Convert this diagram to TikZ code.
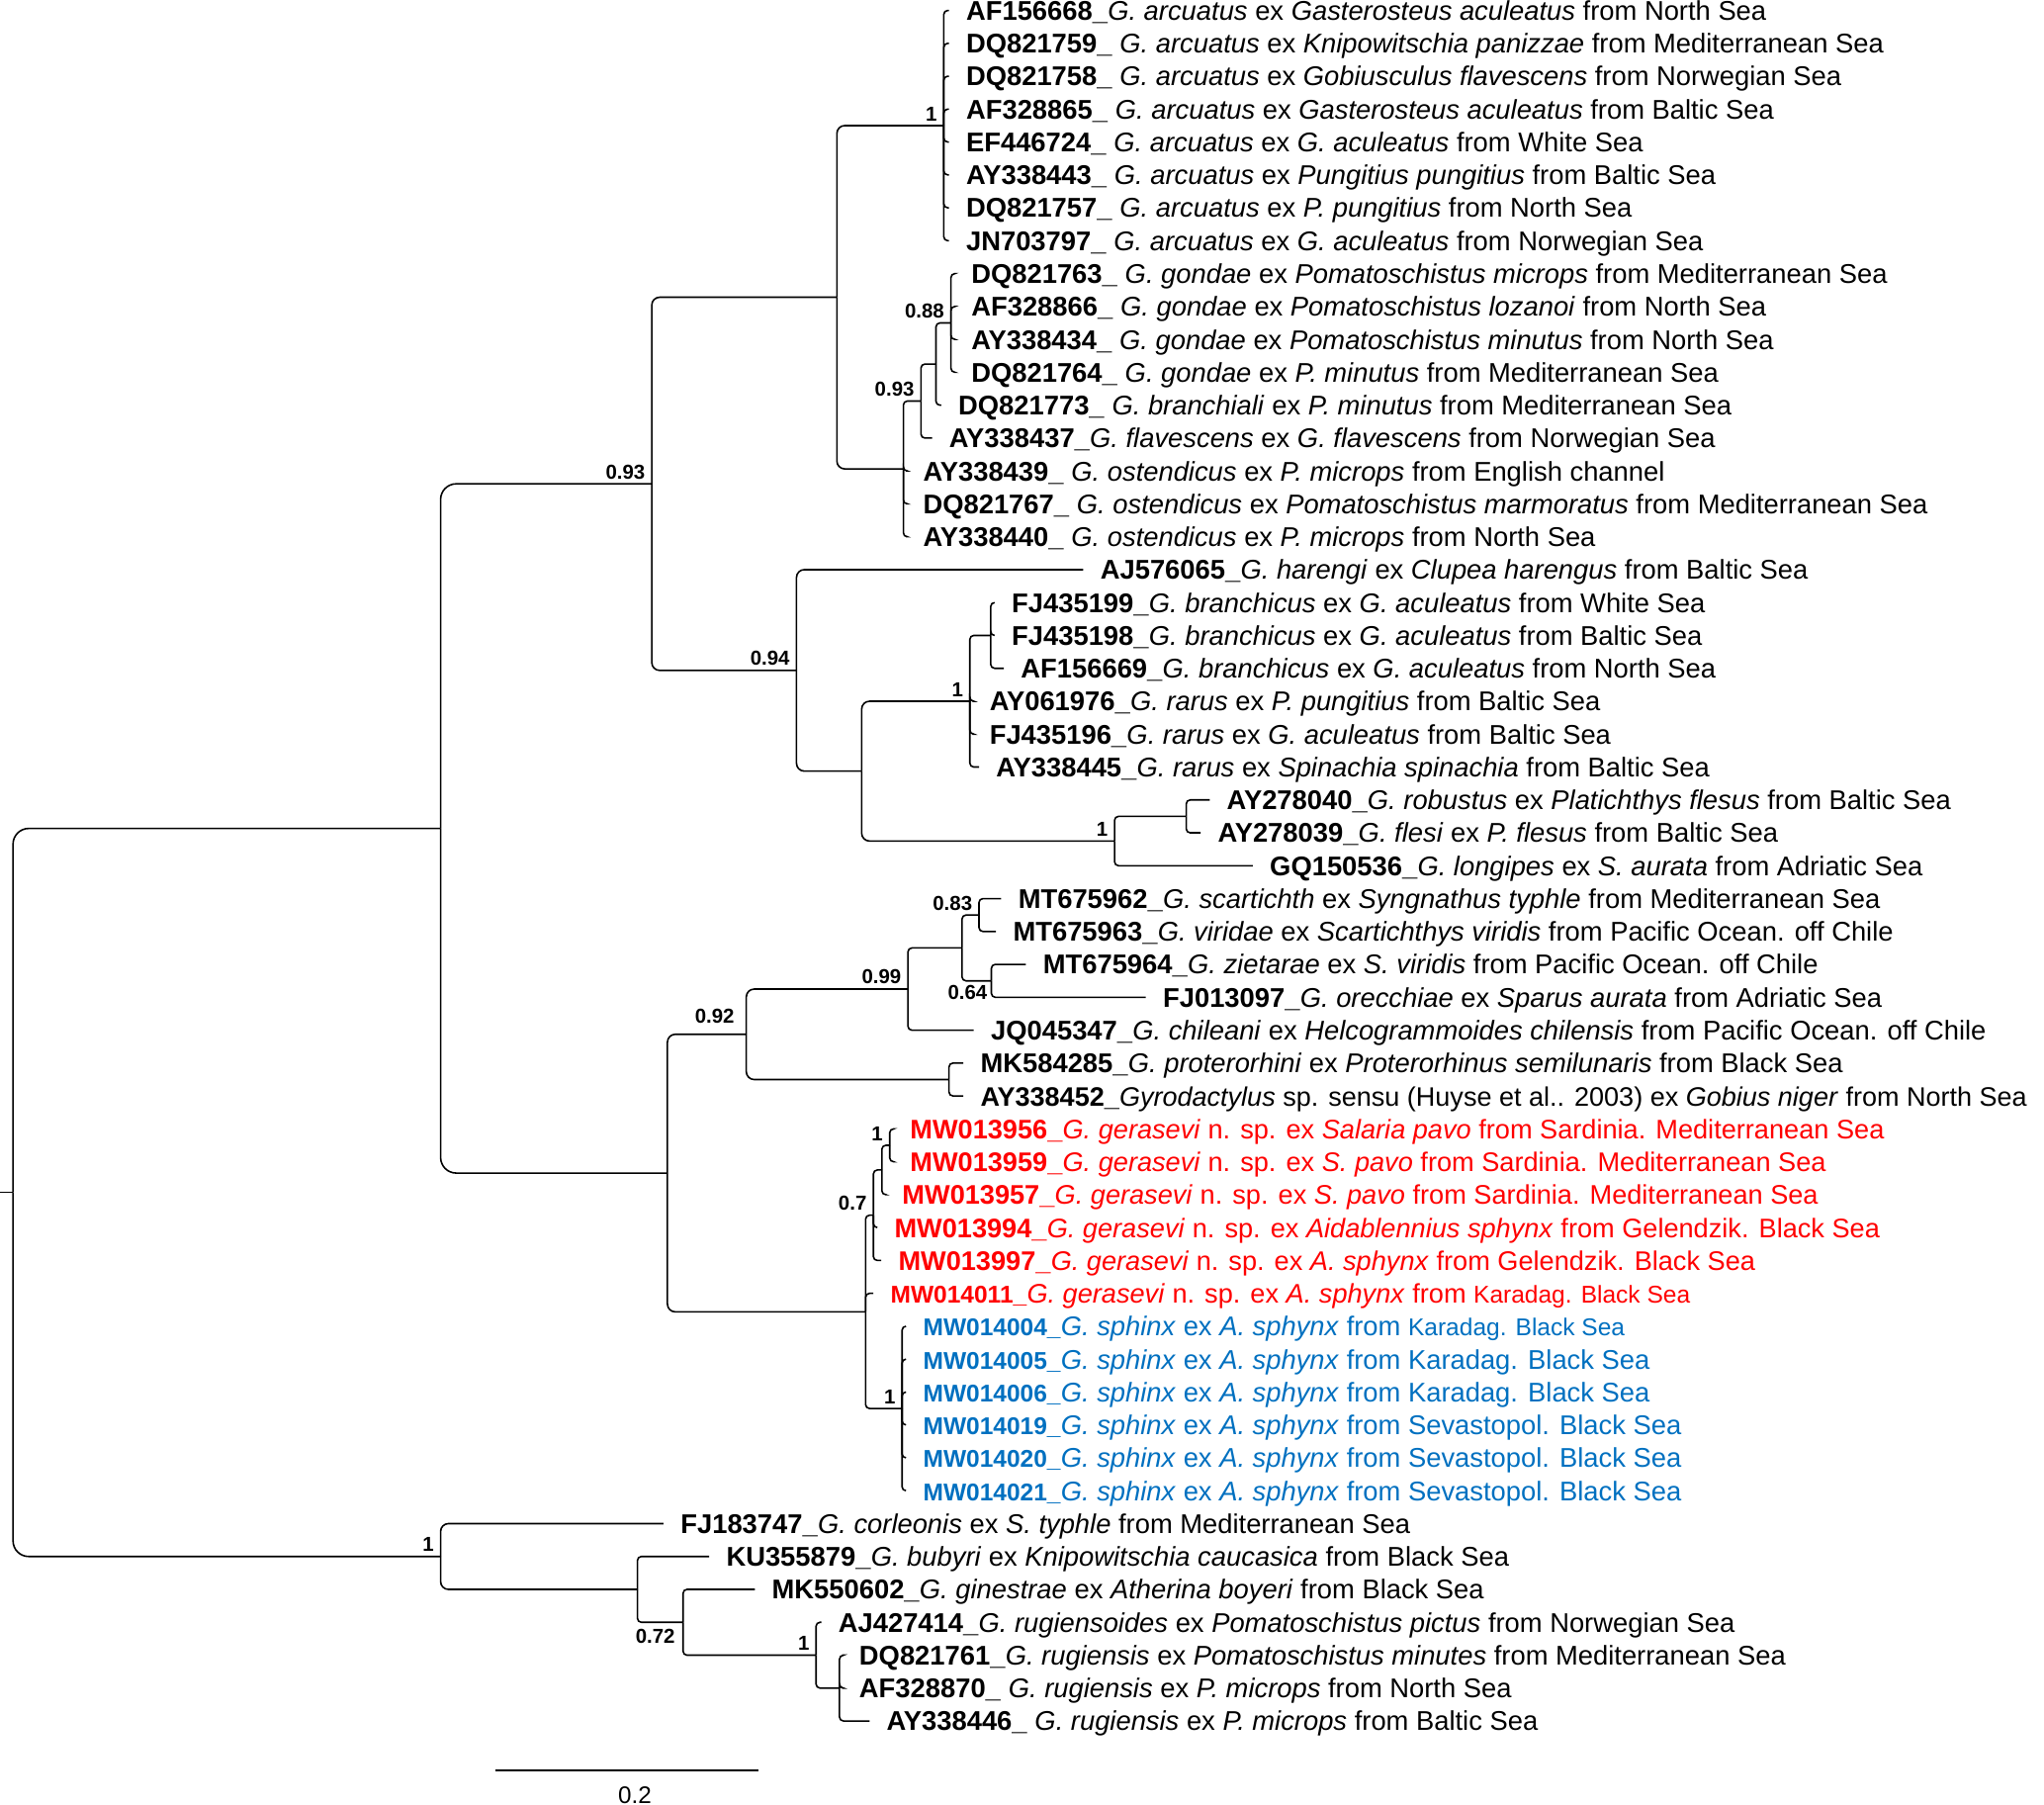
\documentclass[tikz,border=0pt]{standalone}
\usepackage{fontspec}
\setmainfont{Liberation Sans}
\definecolor{gred}{RGB}{255,0,0}
\definecolor{gblue}{RGB}{0,112,192}
\newcommand\acc[1]{\textbf{#1}}
\newcommand\accs[1]{{\fontsize{18.6}{22}\selectfont\textbf{#1}}}
\newcommand\smq[1]{{\fontsize{18.6}{22}\selectfont #1}}
\begin{document}
\begin{tikzpicture}[x=1pt,y=-1pt,
  br/.style={line width=1.2pt, rounded corners=3pt},
  brmid/.style={line width=1.2pt, rounded corners=6pt},
  brbig/.style={line width=1.2pt, rounded corners=12pt},
  leaf/.style={anchor=west, inner xsep=13pt, inner ysep=0pt, text height=15pt, text depth=0pt, font=\fontsize{20.75}{25}\selectfont},
  redleaf/.style={leaf, text=gred, font=\fontsize{20.6}{25}\selectfont},
  blueleaf/.style={leaf, text=gblue},
  sup/.style={font=\fontsize{15.5}{18}\selectfont\bfseries, inner sep=0pt, anchor=south east},
  supb/.style={font=\fontsize{15.5}{18}\selectfont\bfseries, inner sep=0pt, anchor=north east}]
\useasboundingbox (0,0) rectangle (1568,1384.4);

% ---------- leaves ----------
\node[leaf] (L1) at (728,8.0) {\acc{AF156668\_}\textit{G. arcuatus} ex \textit{Gasterosteus aculeatus} from North Sea};
\node[leaf] (L2) at (728,33.23) {\acc{DQ821759\_} \textit{G. arcuatus} ex \textit{Knipowitschia panizzae} from Mediterranean Sea};
\node[leaf] (L3) at (728,58.46) {\acc{DQ821758\_} \textit{G. arcuatus} ex \textit{Gobiusculus flavescens} from Norwegian Sea};
\node[leaf] (L4) at (728,83.69) {\acc{AF328865\_} \textit{G. arcuatus} ex \textit{Gasterosteus aculeatus} from Baltic Sea};
\node[leaf] (L5) at (728,108.92) {\acc{EF446724\_} \textit{G. arcuatus} ex \textit{G. aculeatus} from White Sea};
\node[leaf] (L6) at (728,134.15) {\acc{AY338443\_} \textit{G. arcuatus} ex \textit{Pungitius pungitius} from Baltic Sea};
\node[leaf] (L7) at (728,159.38) {\acc{DQ821757\_} \textit{G. arcuatus} ex \textit{P. pungitius} from North Sea};
\node[leaf] (L8) at (728,184.61) {\acc{JN703797\_} \textit{G. arcuatus} ex \textit{G. aculeatus} from Norwegian Sea};
\node[leaf] (L9) at (732,209.84) {\acc{DQ821763\_} \textit{G. gondae} ex \textit{Pomatoschistus microps} from Mediterranean Sea};
\node[leaf] (L10) at (732,235.07) {\acc{AF328866\_} \textit{G. gondae} ex \textit{Pomatoschistus lozanoi} from North Sea};
\node[leaf] (L11) at (732,260.30) {\acc{AY338434\_} \textit{G. gondae} ex \textit{Pomatoschistus minutus} from North Sea};
\node[leaf] (L12) at (732,285.53) {\acc{DQ821764\_} \textit{G. gondae} ex \textit{P. minutus} from Mediterranean Sea};
\node[leaf] (L13) at (722,310.76) {\acc{DQ821773\_} \textit{G. branchiali} ex \textit{P. minutus} from Mediterranean Sea};
\node[leaf] (L14) at (715,335.99) {\acc{AY338437\_}\textit{G. flavescens} ex \textit{G. flavescens} from Norwegian Sea};
\node[leaf] (L15) at (695,361.22) {\acc{AY338439\_} \textit{G. ostendicus} ex \textit{P. microps} from English channel};
\node[leaf] (L16) at (695,386.45) {\acc{DQ821767\_} \textit{G. ostendicus} ex \textit{Pomatoschistus marmoratus} from Mediterranean Sea};
\node[leaf] (L17) at (695,411.68) {\acc{AY338440\_} \textit{G. ostendicus} ex \textit{P. microps} from North Sea};
\node[leaf] (L18) at (831,436.91) {\acc{AJ576065\_}\textit{G. harengi} ex \textit{Clupea harengus} from Baltic Sea};
\node[leaf] (L19) at (763,462.14) {\acc{FJ435199\_}\textit{G. branchicus} ex \textit{G. aculeatus} from White Sea};
\node[leaf] (L20) at (763,487.37) {\acc{FJ435198\_}\textit{G. branchicus} ex \textit{G. aculeatus} from Baltic Sea};
\node[leaf] (L21) at (770,512.60) {\acc{AF156669\_}\textit{G. branchicus} ex \textit{G. aculeatus} from North Sea};
\node[leaf] (L22) at (746,537.83) {\acc{AY061976\_}\textit{G. rarus} ex \textit{P. pungitius} from Baltic Sea};
\node[leaf] (L23) at (746,563.06) {\acc{FJ435196\_}\textit{G. rarus} ex \textit{G. aculeatus} from Baltic Sea};
\node[leaf] (L24) at (751,588.29) {\acc{AY338445\_}\textit{G. rarus} ex \textit{Spinachia spinachia} from Baltic Sea};
\node[leaf] (L25) at (928,613.52) {\acc{AY278040\_}\textit{G. robustus} ex \textit{Platichthys flesus} from Baltic Sea};
\node[leaf] (L26) at (921,638.75) {\acc{AY278039\_}\textit{G. flesi} ex \textit{P. flesus} from Baltic Sea};
\node[leaf] (L27) at (961,663.98) {\acc{GQ150536\_}\textit{G. longipes} ex \textit{S. aurata} from Adriatic Sea};
\node[leaf] (L28) at (768,689.21) {\acc{MT675962\_}\textit{G. scartichth} ex \textit{Syngnathus typhle} from Mediterranean Sea};
\node[leaf] (L29) at (764,714.44) {\acc{MT675963\_}\textit{G. viridae} ex \textit{Scartichthys viridis} from Pacific Ocean. off Chile};
\node[leaf] (L30) at (787,739.67) {\acc{MT675964\_}\textit{G. zietarae} ex \textit{S. viridis} from Pacific Ocean. off Chile};
\node[leaf] (L31) at (879,764.90) {\acc{FJ013097\_}\textit{G. orecchiae} ex \textit{Sparus aurata} from Adriatic Sea};
\node[leaf] (L32) at (747,790.13) {\acc{JQ045347\_}\textit{G. chileani} ex \textit{Helcogrammoides chilensis} from Pacific Ocean. off Chile};
\node[leaf] (L33) at (739,815.36) {\acc{MK584285\_}\textit{G. proterorhini} ex \textit{Proterorhinus semilunaris} from Black Sea};
\node[leaf, font=\fontsize{20.5}{25}\selectfont] (L34) at (739,840.59) {\acc{AY338452\_}\textit{Gyrodactylus} sp. sensu (Huyse et al.. 2003) ex \textit{Gobius niger} from North Sea};
\node[redleaf] (L35) at (685,865.82) {\acc{MW013956\_}\textit{G. gerasevi} n. sp. ex \textit{Salaria pavo} from Sardinia. Mediterranean Sea};
\node[redleaf] (L36) at (685,891.05) {\acc{MW013959\_}\textit{G. gerasevi} n. sp. ex \textit{S. pavo} from Sardinia. Mediterranean Sea};
\node[redleaf] (L37) at (679,916.28) {\acc{MW013957\_}\textit{G. gerasevi} n. sp. ex \textit{S. pavo} from Sardinia. Mediterranean Sea};
\node[redleaf] (L38) at (673,941.51) {\acc{MW013994\_}\textit{G. gerasevi} n. sp. ex \textit{Aidablennius sphynx} from Gelendzik. Black Sea};
\node[redleaf] (L39) at (676,966.74) {\acc{MW013997\_}\textit{G. gerasevi} n. sp. ex \textit{A. sphynx} from Gelendzik. Black Sea};
\node[redleaf] (L40) at (670,991.97) {\accs{MW014011\_}\textit{G. gerasevi} n. sp. ex \textit{A. sphynx} from \smq{Karadag. Black Sea}};
\node[blueleaf] (L41) at (695,1017.20) {\accs{MW014004\_}\textit{G. sphinx} ex \textit{A. sphynx} from \smq{Karadag. Black Sea}};
\node[blueleaf] (L42) at (695,1042.43) {\accs{MW014005\_}\textit{G. sphinx} ex \textit{A. sphynx} from Karadag. Black Sea};
\node[blueleaf] (L43) at (695,1067.66) {\accs{MW014006\_}\textit{G. sphinx} ex \textit{A. sphynx} from Karadag. Black Sea};
\node[blueleaf] (L44) at (695,1092.89) {\accs{MW014019\_}\textit{G. sphinx} ex \textit{A. sphynx} from Sevastopol. Black Sea};
\node[blueleaf] (L45) at (695,1118.12) {\accs{MW014020\_}\textit{G. sphinx} ex \textit{A. sphynx} from Sevastopol. Black Sea};
\node[blueleaf] (L46) at (695,1143.35) {\accs{MW014021\_}\textit{G. sphinx} ex \textit{A. sphynx} from Sevastopol. Black Sea};
\node[leaf] (L47) at (509,1168.58) {\acc{FJ183747\_}\textit{G. corleonis} ex \textit{S. typhle} from Mediterranean Sea};
\node[leaf] (L48) at (544,1193.81) {\acc{KU355879\_}\textit{G. bubyri} ex \textit{Knipowitschia caucasica} from Black Sea};
\node[leaf] (L49) at (579,1219.04) {\acc{MK550602\_}\textit{G. ginestrae} ex \textit{Atherina boyeri} from Black Sea};
\node[leaf] (L50) at (630,1244.27) {\acc{AJ427414\_}\textit{G. rugiensoides} ex \textit{Pomatoschistus pictus} from Norwegian Sea};
\node[leaf] (L51) at (646,1269.50) {\acc{DQ821761\_}\textit{G. rugiensis} ex \textit{Pomatoschistus minutes} from Mediterranean Sea};
\node[leaf] (L52) at (646,1294.73) {\acc{AF328870\_} \textit{G. rugiensis} ex \textit{P. microps} from North Sea};
\node[leaf] (L53) at (667,1319.96) {\acc{AY338446\_} \textit{G. rugiensis} ex \textit{P. microps} from Baltic Sea};

% ---------- internal nodes ----------
\coordinate (rootin) at (0,914.61);
\coordinate (root) at (10,914.61);
\coordinate (A) at (338,635.41);
\coordinate (B) at (338,1193.81);
\coordinate (A1) at (500,371.08);
\coordinate (A2) at (512,899.73);
\coordinate (n641) at (642,227.98);
\coordinate (arc) at (724,96.31);
\coordinate (ost) at (693,359.64);
\coordinate (n093) at (706.5,307.61);
\coordinate (n1a) at (718,279.22);
\coordinate (n088) at (729.5,247.69);
\coordinate (n094) at (611,514.18);
\coordinate (n077) at (661,591.44);
\coordinate (nrar) at (744,537.83);
\coordinate (n098) at (760,487.37);
\coordinate (n852) at (855,645.06);
\coordinate (n907) at (910,626.14);
\coordinate (n092) at (572.5,793.29);
\coordinate (n099) at (696.5,758.60);
\coordinate (n09) at (738,727.06);
\coordinate (n083) at (751,701.83);
\coordinate (n064) at (760.5,752.29);
\coordinate (nMK) at (728,827.98);
\coordinate (nG1) at (664,1006.17);
\coordinate (n07) at (670,932.05);
\coordinate (n098b) at (676.5,897.36);
\coordinate (n1c) at (682.5,878.44);
\coordinate (nsph) at (692,1080.28);
\coordinate (nB1) at (489,1219.04);
\coordinate (n072) at (524,1244.27);
\coordinate (nB2) at (626,1269.50);
\coordinate (nB3) at (644,1294.73);

% ---------- branches ----------
\draw[line width=1.2pt] (rootin) -- (root);
\draw[brbig] (root) |- (A); \draw[brbig] (root) |- (B);
\draw[brbig] (A) |- (A1); \draw[brbig] (A) |- (A2);
\draw[brmid] (A1) |- (n641); \draw[brmid] (A1) |- (n094);
\draw[brmid] (n641) |- (arc); \draw[brmid] (n641) |- (ost);
\foreach \k in {1,...,8} {\draw[br] (arc) |- (L\k.west);}
\draw[br] (ost) |- (n093); \draw[br] (ost) |- (L15.west); \draw[br] (ost) |- (L16.west); \draw[br] (ost) |- (L17.west);
\draw[br] (n093) |- (n1a); \draw[br] (n093) |- (L14.west);
\draw[br] (n1a) |- (n088); \draw[br] (n1a) |- (L13.west);
\foreach \k in {9,...,12} {\draw[br] (n088) |- (L\k.west);}
\draw[brmid] (n094) |- (L18.west); \draw[brmid] (n094) |- (n077);
\draw[brmid] (n077) |- (nrar); \draw[brmid] (n077) |- (n852);
\draw[br] (nrar) |- (n098); \draw[br] (nrar) |- (L22.west); \draw[br] (nrar) |- (L23.west); \draw[br] (nrar) |- (L24.west);
\draw[br] (n098) |- (L19.west); \draw[br] (n098) |- (L20.west); \draw[br] (n098) |- (L21.west);
\draw[br] (n852) |- (n907); \draw[br] (n852) |- (L27.west);
\draw[br] (n907) |- (L25.west); \draw[br] (n907) |- (L26.west);
\draw[brmid] (A2) |- (n092); \draw[brmid] (A2) |- (nG1);
\draw[brmid] (n092) |- (n099); \draw[brmid] (n092) |- (nMK);
\draw[br] (n099) |- (n09); \draw[br] (n099) |- (L32.west);
\draw[br] (n09) |- (n083); \draw[br] (n09) |- (n064);
\draw[br] (n083) |- (L28.west); \draw[br] (n083) |- (L29.west);
\draw[br] (n064) |- (L30.west); \draw[br] (n064) |- (L31.west);
\draw[br] (nMK) |- (L33.west); \draw[br] (nMK) |- (L34.west);
\draw[br] (nG1) |- (n07); \draw[br] (nG1) |- (L40.west); \draw[br] (nG1) |- (nsph);
\draw[br] (n07) |- (n098b); \draw[br] (n07) |- (L38.west); \draw[br] (n07) |- (L39.west);
\draw[br] (n098b) |- (n1c); \draw[br] (n098b) |- (L37.west);
\draw[br] (n1c) |- (L35.west); \draw[br] (n1c) |- (L36.west);
\foreach \k in {41,...,46} {\draw[br] (nsph) |- (L\k.west);}
\draw[brmid] (B) |- (L47.west); \draw[brmid] (B) |- (nB1);
\draw[br] (nB1) |- (L48.west); \draw[br] (nB1) |- (n072);
\draw[br] (n072) |- (L49.west); \draw[br] (n072) |- (nB2);
\draw[br] (nB2) |- (L50.west); \draw[br] (nB2) |- (nB3);
\draw[br] (nB3) |- (L51.west); \draw[br] (nB3) |- (L52.west); \draw[br] (nB3) |- (L53.west);

% ---------- support values ----------
\newcommand\bsup[3]{\node[sup] (s#1) at ([xshift=-5pt,yshift=3.5pt]#1) {#2};}
\bsup{arc}{1}
\bsup{n641}{1}
\bsup{n088}{0.88}
\bsup{n1a}{1}
\bsup{n093}{0.93}
\bsup{ost}{1}
\bsup{A1}{0.93}
\bsup{n098}{0.98}
\bsup{nrar}{1}
\bsup{n907}{1}
\bsup{n852}{1}
\bsup{n077}{0.77}
\bsup{n094}{0.94}
\node[sup] (sA) at ([xshift=-7pt,yshift=6pt]A) {1};
\bsup{n083}{0.83}
\bsup{n09}{0.9}
\bsup{n099}{0.99}
\bsup{nMK}{1}
\node[sup] (sn092) at ([xshift=-9pt,yshift=8pt]n092) {0.92};
\bsup{n1c}{1}
\bsup{n098b}{0.98}
\bsup{n07}{0.7}
\bsup{nG1}{1}
\bsup{nsph}{1}
\node[sup] (sA2) at ([xshift=-8pt,yshift=8pt]A2) {0.95};
\bsup{B}{1}
\bsup{nB1}{1}
\bsup{nB2}{1}
\bsup{nB3}{1}
\node[supb] (sn064) at ([xshift=-3pt,yshift=-3pt]n064) {0.64};
\node[supb] (sn072) at ([xshift=-6pt,yshift=-5pt]n072) {0.72};

% ---------- scale bar ----------
\coordinate (sb1) at (380,1358);
\coordinate (sb2) at (582,1358);
\draw[line width=1.2pt] (sb1) -- (sb2);
\node[font=\fontsize{18.4}{22}\selectfont, inner sep=0pt] (sblbl) at (487,1377) {0.2};
\end{tikzpicture}
\end{document}
